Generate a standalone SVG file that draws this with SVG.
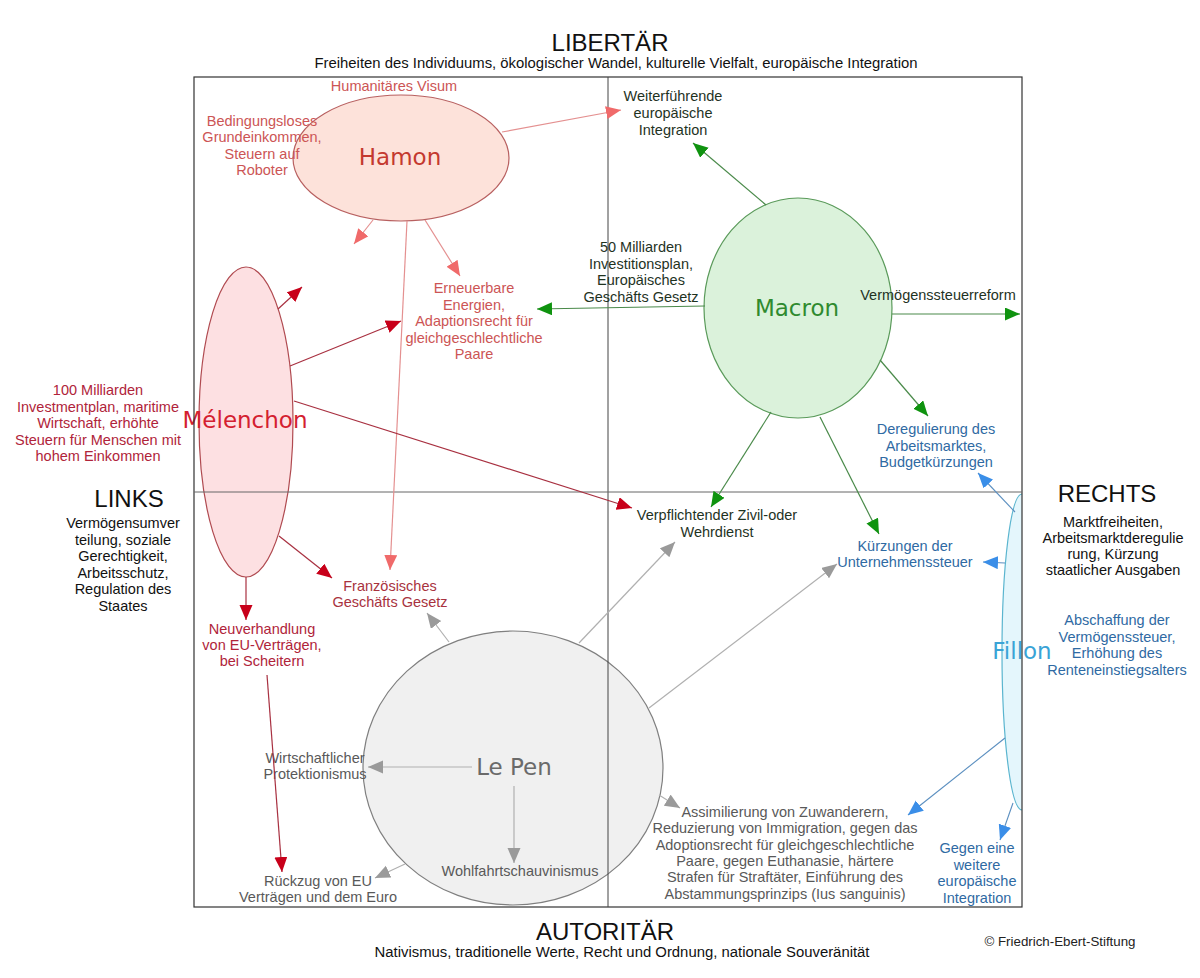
<svg xmlns="http://www.w3.org/2000/svg" width="1200" height="978" viewBox="0 0 1200 978">
<style>
text{font-family:"Liberation Sans",Arial,sans-serif;text-anchor:middle}
.t{font-size:14.5px}
.h{font-size:24px;fill:#111}
.sub{font-size:14px;fill:#111}
.nm{font-family:"DejaVu Sans",Verdana,sans-serif;font-size:23px}
.blk{fill:#111}
.hl{fill:#cc5555}
.ml{fill:#b0243a}
.fr{fill:#a8323e}
.gl{fill:#1f331f}
.bl{fill:#2f6aa3}
.gr{fill:#595959}
.ch{stroke:#e49090;stroke-width:1.2;fill:none;marker-end:url(#aH)}
.cm{stroke:#a83040;stroke-width:1.2;fill:none;marker-end:url(#aM)}
.cg{stroke:#4a8a4a;stroke-width:1.2;fill:none;marker-end:url(#aG)}
.cb{stroke:#5b8fc0;stroke-width:1.1;fill:none;marker-end:url(#aB)}
.cp{stroke:#b0b0b0;stroke-width:1.2;fill:none;marker-end:url(#aP)}
</style>
<defs>
<marker id="aH" markerUnits="userSpaceOnUse" markerWidth="16" markerHeight="14" refX="15" refY="6.5" orient="auto"><path d="M0,0 L15,6.5 L0,13 z" fill="#f06a6a"/></marker>
<marker id="aM" markerUnits="userSpaceOnUse" markerWidth="16" markerHeight="14" refX="15" refY="6.5" orient="auto"><path d="M0,0 L15,6.5 L0,13 z" fill="#c8001a"/></marker>
<marker id="aG" markerUnits="userSpaceOnUse" markerWidth="16" markerHeight="14" refX="15" refY="6.5" orient="auto"><path d="M0,0 L15,6.5 L0,13 z" fill="#0f930f"/></marker>
<marker id="aB" markerUnits="userSpaceOnUse" markerWidth="16" markerHeight="14" refX="15" refY="6.5" orient="auto"><path d="M0,0 L15,6.5 L0,13 z" fill="#3a8ee8"/></marker>
<marker id="aP" markerUnits="userSpaceOnUse" markerWidth="16" markerHeight="14" refX="15" refY="6.5" orient="auto"><path d="M0,0 L15,6.5 L0,13 z" fill="#9a9a9a"/></marker>
<clipPath id="frameClip"><rect x="194" y="77" width="828" height="830"/></clipPath>
</defs>
<rect width="1200" height="978" fill="#fff"/>

<g id="titles">
<text class="h" x="610" y="51">LIBERTÄR</text>
<text class="sub" x="616" y="68" textLength="603" lengthAdjust="spacingAndGlyphs">Freiheiten des Individuums, ökologischer Wandel, kulturelle Vielfalt, europäische Integration</text>
<text class="h" x="605" y="940">AUTORITÄR</text>
<text class="sub" x="622" y="957" textLength="495" lengthAdjust="spacingAndGlyphs">Nativismus, traditionelle Werte, Recht und Ordnung, nationale Souveränität</text>
<text class="h" x="129" y="507">LINKS</text>
<text class="t blk" x="123" y="528"><tspan x="123">Vermögensumver</tspan><tspan x="123" dy="16.6">teilung, soziale</tspan><tspan x="123" dy="16.6">Gerechtigkeit,</tspan><tspan x="123" dy="16.6">Arbeitsschutz,</tspan><tspan x="123" dy="16.6">Regulation des</tspan><tspan x="123" dy="16.6">Staates</tspan></text>
<text class="h" x="1107" y="502">RECHTS</text>
<text class="t blk" x="1113" y="527"><tspan x="1113">Marktfreiheiten,</tspan><tspan x="1113" dy="16">Arbeitsmarktderegulie</tspan><tspan x="1113" dy="16">rung, Kürzung</tspan><tspan x="1113" dy="16">staatlicher Ausgaben</tspan></text>
<text x="1060" y="946" style="font-size:12.5px;fill:#222" textLength="151" lengthAdjust="spacingAndGlyphs">©  Friedrich-Ebert-Stiftung</text>
</g>

<g id="node-hamon">
<ellipse cx="401" cy="158" rx="108" ry="63" fill="#fde2da" stroke="#b86060" stroke-width="1.2"/>
<text class="nm" x="400" y="165" fill="#c4392f">Hamon</text>
</g>
<g id="node-melenchon">
<ellipse cx="246" cy="422" rx="47" ry="155" fill="#fde0e2" stroke="#b04a50" stroke-width="1.2"/>
<text class="nm" x="245" y="428" fill="#d42030">Mélenchon</text>
</g>
<g id="node-macron">
<ellipse cx="798" cy="308" rx="94" ry="110" fill="#dbf2db" stroke="#5a9a5a" stroke-width="1.2"/>
<text class="nm" x="797" y="316" fill="#2f8a2f">Macron</text>
</g>
<g id="node-fillon">
<ellipse cx="1022" cy="652" rx="20" ry="158" fill="#e4f6fc" stroke="#5ab5cf" stroke-width="1.2" clip-path="url(#frameClip)"/>
<text class="nm" x="1022" y="659" fill="#3aa3d6">Fillon</text>
</g>
<g id="node-lepen">
<ellipse cx="513" cy="768" rx="150" ry="137" fill="#f0f0f0" stroke="#7f7f7f" stroke-width="1.2"/>
<text class="nm" x="514" y="775" fill="#6a6a6a">Le Pen</text>
</g>

<g id="axes" fill="none">
<rect x="194" y="77" width="828" height="830" stroke="#333" stroke-width="1.2"/>
<line x1="608" y1="77" x2="608" y2="907" stroke="#444" stroke-width="1"/>
<line x1="194" y1="492" x2="1022" y2="492" stroke="#666" stroke-width="1"/>
</g>

<g id="labels">
<text class="t hl" x="394" y="91">Humanitäres Visum</text>
<text class="t hl" x="262" y="126"><tspan x="262">Bedingungsloses</tspan><tspan x="262" dy="16.4">Grundeinkommen,</tspan><tspan x="262" dy="16.4">Steuern auf</tspan><tspan x="262" dy="16.4">Roboter</tspan></text>
<text class="t hl" x="474" y="293"><tspan x="474">Erneuerbare</tspan><tspan x="474" dy="16.5">Energien,</tspan><tspan x="474" dy="16.5">Adaptionsrecht für</tspan><tspan x="474" dy="16.5">gleichgeschlechtliche</tspan><tspan x="474" dy="16.5">Paare</tspan></text>
<text class="t fr" x="390" y="591"><tspan x="390">Französisches</tspan><tspan x="390" dy="16.3">Geschäfts Gesetz</tspan></text>
<text class="t ml" x="98" y="395"><tspan x="98">100 Milliarden</tspan><tspan x="98" dy="16.5">Investmentplan, maritime</tspan><tspan x="98" dy="16.5">Wirtschaft, erhöhte</tspan><tspan x="98" dy="16.5">Steuern für Menschen mit</tspan><tspan x="98" dy="16.5">hohem Einkommen</tspan></text>
<text class="t ml" x="262" y="634"><tspan x="262">Neuverhandlung</tspan><tspan x="262" dy="16.2">von EU-Verträgen,</tspan><tspan x="262" dy="16.2">bei Scheitern</tspan></text>
<text class="t gl" x="673" y="101"><tspan x="673">Weiterführende</tspan><tspan x="673" dy="17">europäische</tspan><tspan x="673" dy="17">Integration</tspan></text>
<text class="t gl" x="641" y="252"><tspan x="641">50 Milliarden</tspan><tspan x="641" dy="16.6">Investitionsplan,</tspan><tspan x="641" dy="16.6">Europäisches</tspan><tspan x="641" dy="16.6">Geschäfts Gesetz</tspan></text>
<text class="t gl" x="938" y="300">Vermögenssteuerreform</text>
<text class="t gl" x="717" y="520"><tspan x="717">Verpflichtender Zivil-oder</tspan><tspan x="717" dy="16.7">Wehrdienst</tspan></text>
<text class="t bl" x="936" y="434"><tspan x="936">Deregulierung des</tspan><tspan x="936" dy="16.5">Arbeitsmarktes,</tspan><tspan x="936" dy="16.5">Budgetkürzungen</tspan></text>
<text class="t bl" x="905" y="551"><tspan x="905">Kürzungen der</tspan><tspan x="905" dy="16.3">Unternehmenssteuer</tspan></text>
<text class="t bl" x="1117" y="625"><tspan x="1117">Abschaffung der</tspan><tspan x="1117" dy="16.6">Vermögenssteuer,</tspan><tspan x="1117" dy="16.6">Erhöhung des</tspan><tspan x="1117" dy="16.6">Renteneinstiegsalters</tspan></text>
<text class="t bl" x="977" y="853"><tspan x="977">Gegen eine</tspan><tspan x="977" dy="16.6">weitere</tspan><tspan x="977" dy="16.6">europäische</tspan><tspan x="977" dy="16.6">Integration</tspan></text>
<text class="t gr" x="315" y="763"><tspan x="315">Wirtschaftlicher</tspan><tspan x="315" dy="16.3">Protektionismus</tspan></text>
<text class="t gr" x="520" y="876">Wohlfahrtschauvinismus</text>
<text class="t gr" x="318" y="886"><tspan x="318">Rückzug von EU</tspan><tspan x="318" dy="16.2">Verträgen und dem Euro</tspan></text>
<text class="t gr" x="785" y="817"><tspan x="785">Assimilierung von Zuwanderern,</tspan><tspan x="785" dy="16.3">Reduzierung von Immigration, gegen das</tspan><tspan x="785" dy="16.3">Adoptionsrecht für gleichgeschlechtliche</tspan><tspan x="785" dy="16.3">Paare, gegen Euthanasie, härtere</tspan><tspan x="785" dy="16.3">Strafen für Straftäter, Einführung des</tspan><tspan x="785" dy="16.3">Abstammungsprinzips (Ius sanguinis)</tspan></text>
</g>

<g id="connectors">
<line class="ch" x1="502" y1="132" x2="621" y2="110"/>
<line class="ch" x1="373" y1="220" x2="354" y2="244"/>
<line class="ch" x1="425" y1="220" x2="460" y2="276"/>
<line class="ch" x1="407" y1="221" x2="390" y2="570"/>
<line class="cm" x1="278" y1="309" x2="302" y2="287"/>
<line class="cm" x1="290" y1="366" x2="401" y2="321"/>
<line class="cm" x1="294" y1="401" x2="632" y2="508"/>
<line class="cm" x1="279" y1="536" x2="332" y2="578"/>
<line class="cm" x1="246" y1="577" x2="246" y2="620"/>
<line class="cm" x1="267" y1="675" x2="282" y2="872"/>
<line class="cg" x1="766" y1="205" x2="693" y2="143"/>
<line class="cg" x1="705" y1="306" x2="537" y2="309"/>
<line class="cg" x1="892" y1="314" x2="1020" y2="314"/>
<line class="cg" x1="880" y1="360" x2="928" y2="416"/>
<line class="cg" x1="771" y1="412" x2="711" y2="507"/>
<line class="cg" x1="820" y1="417" x2="879" y2="534"/>
<line class="cb" x1="1015" y1="512" x2="978" y2="473"/>
<line class="cb" x1="1005" y1="563" x2="983" y2="562"/>
<line class="cb" x1="1005" y1="738" x2="908" y2="815"/>
<line class="cb" x1="1013" y1="803" x2="1000" y2="840"/>
<line class="cp" x1="472" y1="767" x2="368" y2="767"/>
<line class="cp" x1="514" y1="786" x2="514" y2="863"/>
<line class="cp" x1="449" y1="642" x2="427" y2="613"/>
<line class="cp" x1="579" y1="643" x2="675" y2="542"/>
<line class="cp" x1="649" y1="708" x2="837" y2="564"/>
<line class="cp" x1="405" y1="864" x2="375" y2="878"/>
<line class="cp" x1="659" y1="795" x2="680" y2="808"/>
</g>
</svg>
